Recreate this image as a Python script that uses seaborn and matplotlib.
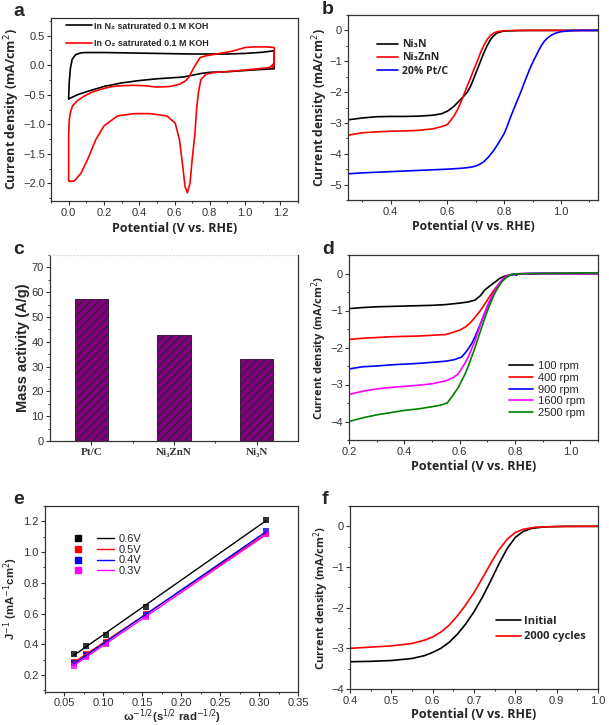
import numpy as np
import pandas as pd
import matplotlib
matplotlib.use('Agg')
import matplotlib.pyplot as plt
import seaborn as sns
from matplotlib.ticker import AutoMinorLocator, MultipleLocator
from matplotlib.legend_handler import HandlerTuple
from matplotlib.lines import Line2D

# ---------------- data ----------------
# (a) CV curves
cv_n2_x = [0.0, 0.003, 0.01, 0.02, 0.04, 0.07, 0.10, 0.2, 0.3, 0.4, 0.5, 0.6, 0.7, 0.8, 0.9, 1.0, 1.1, 1.165,
           1.165, 1.1, 1.0, 0.9, 0.8, 0.75, 0.7, 0.65, 0.6, 0.5, 0.4, 0.3, 0.2, 0.1, 0.05, 0.0]
cv_n2_y = [-0.57, -0.3, -0.05, 0.1, 0.18, 0.21, 0.215, 0.215, 0.21, 0.205, 0.2, 0.195, 0.19, 0.19, 0.19, 0.2, 0.22, 0.245,
           -0.06, -0.07, -0.09, -0.11, -0.12, -0.14, -0.17, -0.2, -0.21, -0.23, -0.26, -0.3, -0.36, -0.45, -0.5, -0.57]
cv_o2_x = [0.0, 0.0, 0.0, 0.004, 0.01, 0.022, 0.05, 0.09, 0.13, 0.18, 0.23, 0.28, 0.37, 0.44, 0.5, 0.575, 0.63,
           0.66, 0.68, 0.71, 0.745, 0.78, 0.84, 0.93, 1.0, 1.05, 1.12, 1.165, 1.165, 1.155, 1.16, 1.14, 1.04, 0.93,
           0.82, 0.78, 0.75, 0.735, 0.725, 0.716, 0.70, 0.688, 0.673, 0.66, 0.647, 0.628, 0.604, 0.557, 0.463, 0.37,
           0.276, 0.2, 0.154, 0.107, 0.07, 0.032, 0.004, 0.0]
cv_o2_y = [-1.95, -1.6, -1.2, -0.92, -0.8, -0.69, -0.6, -0.52, -0.46, -0.41, -0.37, -0.35, -0.34, -0.35, -0.37, -0.36,
           -0.32, -0.27, -0.21, -0.04, 0.13, 0.16, 0.19, 0.24, 0.30, 0.31, 0.31, 0.30, 0.0, -0.04, 0.02, -0.04, -0.07,
           -0.1, -0.125, -0.15, -0.24, -0.47, -0.75, -1.15, -1.6, -2.0, -2.16, -2.06, -1.72, -1.26, -0.98, -0.86,
           -0.82, -0.82, -0.86, -1.03, -1.26, -1.6, -1.83, -1.96, -1.97, -1.95]
cv_labels = ['In N\u2082 satrurated 0.1 M KOH', 'In O\u2082 satrurated 0.1 M KOH']

# (b) LSV comparison
b_labels = ['Ni\u2083N', 'Ni\u2083ZnN', '20% Pt/C']
ni3n_x = [0.25, 0.3, 0.35, 0.4, 0.45, 0.5, 0.55, 0.58, 0.6, 0.622, 0.64, 0.657, 0.67, 0.681, 0.693, 0.705, 0.717,
          0.728, 0.74, 0.752, 0.764, 0.776, 0.79, 0.8, 0.85, 0.9, 1.0, 1.13]
ni3n_y = [-2.9, -2.84, -2.8, -2.79, -2.79, -2.78, -2.75, -2.7, -2.62, -2.47, -2.3, -2.14, -2.0, -1.82, -1.55, -1.27,
          -0.99, -0.73, -0.49, -0.29, -0.16, -0.08, -0.04, -0.02, -0.005, 0.0, 0.0, 0.0]
ni3znn_x = [0.25, 0.3, 0.35, 0.4, 0.45, 0.5, 0.55, 0.58, 0.6, 0.622, 0.635, 0.646, 0.657, 0.669, 0.681, 0.693, 0.705,
            0.716, 0.728, 0.74, 0.752, 0.764, 0.776, 0.79, 0.8, 0.85, 0.9, 1.0, 1.13]
ni3znn_y = [-3.4, -3.32, -3.29, -3.27, -3.26, -3.24, -3.19, -3.12, -3.05, -2.79, -2.58, -2.36, -2.1, -1.82, -1.55,
            -1.27, -1.0, -0.73, -0.49, -0.29, -0.16, -0.08, -0.04, -0.02, -0.01, 0.0, 0.0, 0.0, 0.0]
ptc_x = [0.25, 0.3, 0.35, 0.4, 0.45, 0.5, 0.55, 0.6, 0.65, 0.68, 0.7, 0.716, 0.728, 0.745, 0.764, 0.78, 0.8, 0.812,
         0.823, 0.835, 0.847, 0.859, 0.87, 0.882, 0.894, 0.906, 0.917, 0.929, 0.941, 0.953, 0.965, 0.98, 1.0,
         1.035, 1.07, 1.13]
ptc_y = [-4.65, -4.62, -4.6, -4.58, -4.56, -4.54, -4.52, -4.5, -4.47, -4.44, -4.4, -4.33, -4.26, -4.1, -3.88, -3.65,
         -3.34, -3.07, -2.79, -2.52, -2.25, -1.98, -1.71, -1.43, -1.16, -0.93, -0.73, -0.52, -0.35, -0.24, -0.16,
         -0.09, -0.04, -0.01, 0.0, 0.0]

# (c) mass activity
c_cats = ['Pt/C', 'Ni\u2083ZnN', 'Ni\u2083N']
c_vals = [57.2, 42.6, 32.9]

# (d) rotation rates
d_labels = ['100 rpm', '400 rpm', '900 rpm', '1600 rpm', '2500 rpm']
rpm100_x = [0.2, 0.25, 0.3, 0.35, 0.4, 0.45, 0.5, 0.55, 0.6, 0.63, 0.655, 0.675, 0.69, 0.71, 0.728, 0.745, 0.764,
            0.78, 0.8, 0.85, 0.9, 1.0, 1.1]
rpm100_y = [-0.95, -0.92, -0.9, -0.89, -0.88, -0.87, -0.86, -0.84, -0.8, -0.77, -0.72, -0.6, -0.45, -0.33, -0.23,
            -0.13, -0.07, -0.04, -0.02, -0.01, 0.0, 0.0, 0.0]
rpm400_x = [0.2, 0.25, 0.3, 0.35, 0.4, 0.45, 0.5, 0.55, 0.571, 0.6, 0.62, 0.64, 0.656, 0.675, 0.692, 0.71, 0.728,
            0.746, 0.764, 0.78, 0.8, 0.85, 0.9, 1.0, 1.1]
rpm400_y = [-1.78, -1.75, -1.73, -1.71, -1.7, -1.69, -1.67, -1.65, -1.6, -1.53, -1.45, -1.32, -1.18, -1.0, -0.81,
            -0.6, -0.41, -0.24, -0.11, -0.05, -0.02, -0.01, 0.0, 0.0, 0.0]
rpm900_x = [0.2, 0.25, 0.3, 0.35, 0.4, 0.45, 0.5, 0.55, 0.58, 0.607, 0.625, 0.643, 0.656, 0.668, 0.68, 0.692, 0.704,
            0.716, 0.728, 0.74, 0.752, 0.764, 0.78, 0.8, 0.805, 0.81, 0.85, 0.9, 1.0, 1.1]
rpm900_y = [-2.58, -2.52, -2.5, -2.47, -2.45, -2.43, -2.4, -2.37, -2.33, -2.26, -2.1, -1.9, -1.7, -1.49, -1.27,
            -1.04, -0.83, -0.63, -0.46, -0.32, -0.2, -0.11, -0.05, -0.02, -0.05, -0.01, 0.0, 0.0, 0.0, 0.0]
rpm1600_x = [0.2, 0.25, 0.3, 0.35, 0.4, 0.45, 0.5, 0.55, 0.575, 0.595, 0.613, 0.631, 0.643, 0.656, 0.668, 0.68,
             0.692, 0.704, 0.716, 0.728, 0.74, 0.752, 0.764, 0.776, 0.79, 0.8, 0.85, 0.9, 1.0, 1.1]
rpm1600_y = [-3.27, -3.18, -3.12, -3.08, -3.05, -3.02, -2.98, -2.9, -2.82, -2.71, -2.5, -2.26, -2.04, -1.81, -1.54,
             -1.27, -1.03, -0.81, -0.62, -0.45, -0.3, -0.18, -0.1, -0.05, -0.02, -0.01, 0.0, 0.0, 0.0, 0.0]
rpm2500_x = [0.2, 0.25, 0.3, 0.35, 0.4, 0.45, 0.5, 0.53, 0.555, 0.575, 0.595, 0.607, 0.62, 0.632, 0.643, 0.656,
             0.668, 0.68, 0.692, 0.704, 0.716, 0.728, 0.74, 0.752, 0.764, 0.776, 0.788, 0.8, 0.85, 0.9, 1.0, 1.1]
rpm2500_y = [-4.0, -3.9, -3.82, -3.76, -3.7, -3.66, -3.6, -3.56, -3.5, -3.3, -3.08, -2.9, -2.71, -2.49, -2.26,
             -1.99, -1.72, -1.45, -1.18, -0.94, -0.72, -0.52, -0.36, -0.23, -0.14, -0.07, -0.03, -0.01, 0.0, 0.0,
             0.01, 0.02]

# (e) Koutecky-Levich
omega_inv_sqrt = [0.0618, 0.0772, 0.1030, 0.1545, 0.3090]
e_labels = ['0.6V', '0.5V', '0.4V', '0.3V']
kl_06 = [0.340, 0.390, 0.462, 0.640, 1.212]
kl_05 = [0.282, 0.336, 0.418, 0.597, 1.120]
kl_04 = [0.276, 0.330, 0.410, 0.588, 1.136]
kl_03 = [0.262, 0.318, 0.400, 0.577, 1.115]

# (f) stability
f_labels = ['Initial', '2000 cycles']
init_x = [0.40, 0.45, 0.50, 0.55, 0.58, 0.60, 0.62, 0.64, 0.66, 0.68, 0.70, 0.72, 0.74, 0.76, 0.78, 0.80, 0.82,
          0.84, 0.87, 0.92, 1.0]
init_y = [-3.33, -3.32, -3.3, -3.25, -3.18, -3.1, -3.0, -2.85, -2.65, -2.4, -2.1, -1.75, -1.35, -0.93, -0.55, -0.27,
          -0.12, -0.05, -0.015, 0.0, 0.0]
cyc_x = [0.40, 0.45, 0.50, 0.55, 0.58, 0.60, 0.62, 0.64, 0.66, 0.68, 0.70, 0.72, 0.74, 0.76, 0.78, 0.80, 0.82, 0.85,
         0.90, 1.0]
cyc_y = [-3.0, -2.97, -2.94, -2.88, -2.8, -2.72, -2.6, -2.43, -2.2, -1.93, -1.63, -1.28, -0.92, -0.58, -0.32, -0.15,
         -0.07, -0.02, -0.005, 0.0]

# ---------------- style ----------------
sns.set_theme(style='ticks')
plt.rcParams['font.family'] = ['Liberation Sans', 'DejaVu Sans']
plt.rcParams.update({
    'axes.linewidth': 0.9, 'xtick.direction': 'out', 'ytick.direction': 'out',
    'xtick.major.size': 2.6, 'ytick.major.size': 2.6, 'xtick.minor.size': 1.5, 'ytick.minor.size': 1.5,
    'xtick.major.width': 0.8, 'ytick.major.width': 0.8, 'xtick.minor.width': 0.7, 'ytick.minor.width': 0.7,
    'xtick.labelsize': 8, 'ytick.labelsize': 8, 'xtick.color': '#333333', 'ytick.color': '#333333',
    'xtick.major.pad': 2.5, 'ytick.major.pad': 1.8,
})
OPEN = ['Open Sans', 'DejaVu Sans']
LW = 1.2
RED, BLUE = '#ff0000', '#0000ff'

W, H = 609, 725
fig = plt.figure(figsize=(W / 100, H / 100), dpi=100)


def add_ax(l, r, t, b):
    return fig.add_axes([l / W, 1 - b / H, (r - l) / W, (b - t) / H])


def frame(ax):
    for s in ax.spines.values():
        s.set_visible(True)
        s.set_color('#333333')
    ax.xaxis.set_minor_locator(AutoMinorLocator(2))
    ax.yaxis.set_minor_locator(AutoMinorLocator(2))


def labels(ax, xl, yl, xc, yc, size=9, family=OPEN, ysize=None):
    # xc: x-label centre offset below axis (px); yc: y-label centre x in fig px
    bb = ax.get_position()
    wpx, hpx = bb.width * W, bb.height * H
    lpx = bb.x0 * W
    if xl:
        ax.set_xlabel(xl, fontsize=size, fontweight='bold', family=family)
        ax.xaxis.label.set_va('center')
        ax.xaxis.set_label_coords(0.5, -xc / hpx)
    ax.set_ylabel(yl, fontsize=ysize or size, fontweight='bold', family=family)
    ax.yaxis.label.set_va('center')
    ax.yaxis.label.set_rotation_mode('default')
    ax.yaxis.set_label_coords((yc - lpx) / wpx, 0.5)


def curve(ax, x, y, color):
    sns.lineplot(x=x, y=y, sort=False, estimator=None, color=color, lw=LW, ax=ax, legend=False)


# ---- (a)
ax = add_ax(51, 298, 18, 201)
curve(ax, cv_n2_x, cv_n2_y, 'black')
curve(ax, cv_o2_x, cv_o2_y, RED)
ax.set_xlim(-0.1, 1.3)
ax.set_ylim(-2.3, 0.8)
ax.xaxis.set_major_locator(MultipleLocator(0.2))
ax.yaxis.set_major_locator(MultipleLocator(0.5))
frame(ax)
labels(ax, 'Potential (V vs. RHE)', 'Current density (mA/cm$^2$)', 27, 12, size=9)
h = [Line2D([], [], color='black', lw=LW), Line2D([], [], color=RED, lw=LW)]
ax.legend(h, cv_labels, loc='upper left', bbox_to_anchor=(0.04, 1.01), frameon=False, handlelength=2.9,
          prop=dict(size=6.4, weight='bold', family=['Liberation Sans Narrow', 'Liberation Sans', 'DejaVu Sans']),
          labelspacing=0.95, handletextpad=0.25, borderaxespad=0.2)

# ---- (b)
ax = add_ax(348, 598, 15, 200)
curve(ax, ni3n_x, ni3n_y, 'black')
curve(ax, ni3znn_x, ni3znn_y, RED)
curve(ax, ptc_x, ptc_y, BLUE)
ax.set_xlim(0.25, 1.13)
ax.set_ylim(-5.5, 0.5)
ax.xaxis.set_major_locator(MultipleLocator(0.2))
ax.yaxis.set_major_locator(MultipleLocator(1))
frame(ax)
labels(ax, 'Potential (V vs. RHE)', 'Current density (mA/cm$^2$)', 27, 320, size=8.8)
h = [Line2D([], [], color=c, lw=LW) for c in ['black', RED, BLUE]]
ax.legend(h, b_labels, loc='upper left', bbox_to_anchor=(0.08, 0.92), frameon=False, handlelength=2.0,
          prop=dict(size=7.5, weight='bold', family=OPEN), labelspacing=0.22, handletextpad=0.35)

# ---- (c)
ax = add_ax(50, 298, 255, 441)
sns.barplot(x=c_cats, y=c_vals, color='#800080', saturation=1, width=0.4, ax=ax,
            edgecolor='#3a1a3a', linewidth=0.7, hatch='////')
for p in ax.patches:
    p.set_edgecolor('#3a1a3a')
ax.set_xlim(-0.5, 2.5)
ax.set_ylim(0, 75)
ax.yaxis.set_major_locator(MultipleLocator(10))
ax.yaxis.set_minor_locator(AutoMinorLocator(2))
ax.set_xticks([0.5, 1.5], minor=True)
for s in ax.spines.values():
    s.set_visible(True)
    s.set_color('#333333')
ax.spines['top'].set_color('#dddddd')
ax.spines['top'].set_linestyle(':')
for t in ax.get_xticklabels():
    t.set_fontfamily(['Liberation Serif', 'DejaVu Serif'])
    t.set_fontweight('bold')
    t.set_fontsize(8)
ax.set_xlabel('')
labels(ax, None, 'Mass activity (A/g)', 0, 23, size=10.5, family=['Liberation Sans', 'DejaVu Sans'])

# ---- (d)
ax = add_ax(349, 598, 255, 440)
d_colors = ['black', RED, BLUE, '#ff00ff', '#008000']
for xs, ys, c in zip([rpm100_x, rpm400_x, rpm900_x, rpm1600_x, rpm2500_x],
                     [rpm100_y, rpm400_y, rpm900_y, rpm1600_y, rpm2500_y], d_colors):
    curve(ax, xs, ys, c)
ax.set_xlim(0.2, 1.1)
ax.set_ylim(-4.5, 0.5)
ax.xaxis.set_major_locator(MultipleLocator(0.2))
ax.yaxis.set_major_locator(MultipleLocator(1))
frame(ax)
labels(ax, 'Potential (V vs. RHE)', 'Current density (mA/cm$^2$)', 27, 319, size=9, ysize=8.0)
h = [Line2D([], [], color=c, lw=LW) for c in d_colors]
ax.legend(h, d_labels, loc='lower right', bbox_to_anchor=(0.99, 0.065), frameon=False, handlelength=2.2,
          prop=dict(size=8), labelspacing=0.15, handletextpad=0.45)

# ---- (e)
ax = add_ax(45, 298, 506, 692)
e_colors = ['black', RED, BLUE, '#ff00ff']
for ys, c in zip([kl_06, kl_05, kl_04, kl_03], e_colors):
    sns.regplot(x=omega_inv_sqrt, y=ys, ci=None, marker='s', color=c, ax=ax, truncate=True,
                scatter_kws=dict(s=13, linewidths=0), line_kws=dict(lw=1.0))
ax.set_xlim(0.025, 0.35)
ax.set_ylim(0.09, 1.3)
ax.xaxis.set_major_locator(MultipleLocator(0.05))
ax.yaxis.set_major_locator(MultipleLocator(0.2))
ax.tick_params(axis='x', which='major', pad=1.5)
frame(ax)
labels(ax, '\u03c9$^{-1/2}$(s$^{1/2}$ rad$^{-1/2}$)', 'J$^{-1}$ (mA$^{-1}$cm$^{2}$)', 25, 11, size=8.2,
       family=['Liberation Sans', 'DejaVu Sans'])
h = [(Line2D([], [], color=c, marker='s', ls='', ms=4), Line2D([], [], color=c, lw=1.0)) for c in e_colors]
ax.legend(h, e_labels, loc='upper left', bbox_to_anchor=(0.06, 0.905), frameon=False, handlelength=3.9,
          handler_map={tuple: HandlerTuple(ndivide=None, pad=1.0)}, prop=dict(size=8),
          labelspacing=0.08, handletextpad=0.5)

# ---- (f)
ax = add_ax(350, 598, 506, 689)
curve(ax, init_x, init_y, 'black')
curve(ax, cyc_x, cyc_y, RED)
ax.set_xlim(0.4, 1.0)
ax.set_ylim(-4, 0.5)
ax.xaxis.set_major_locator(MultipleLocator(0.1))
ax.yaxis.set_major_locator(MultipleLocator(1))
frame(ax)
labels(ax, 'Potential (V vs. RHE)', 'Current density (mA/cm$^2$)', 26, 321, size=9, ysize=8.0)
h = [Line2D([], [], color=c, lw=LW) for c in ['black', RED]]
ax.legend(h, f_labels, loc='lower left', bbox_to_anchor=(0.55, 0.2), frameon=False, handlelength=2.2,
          prop=dict(size=8, weight='bold', family=OPEN), labelspacing=0.4, handletextpad=0.3)

# ---- panel letters
for lab, (px, py) in zip('abcdef', [(19, 11), (328, 9), (19, 250), (328, 249), (19, 500), (325, 499)]):
    fig.text(px / W, 1 - py / H, lab, fontsize=14, fontweight='bold', va='center', ha='center')

fig.savefig('out.png', dpi=100)
